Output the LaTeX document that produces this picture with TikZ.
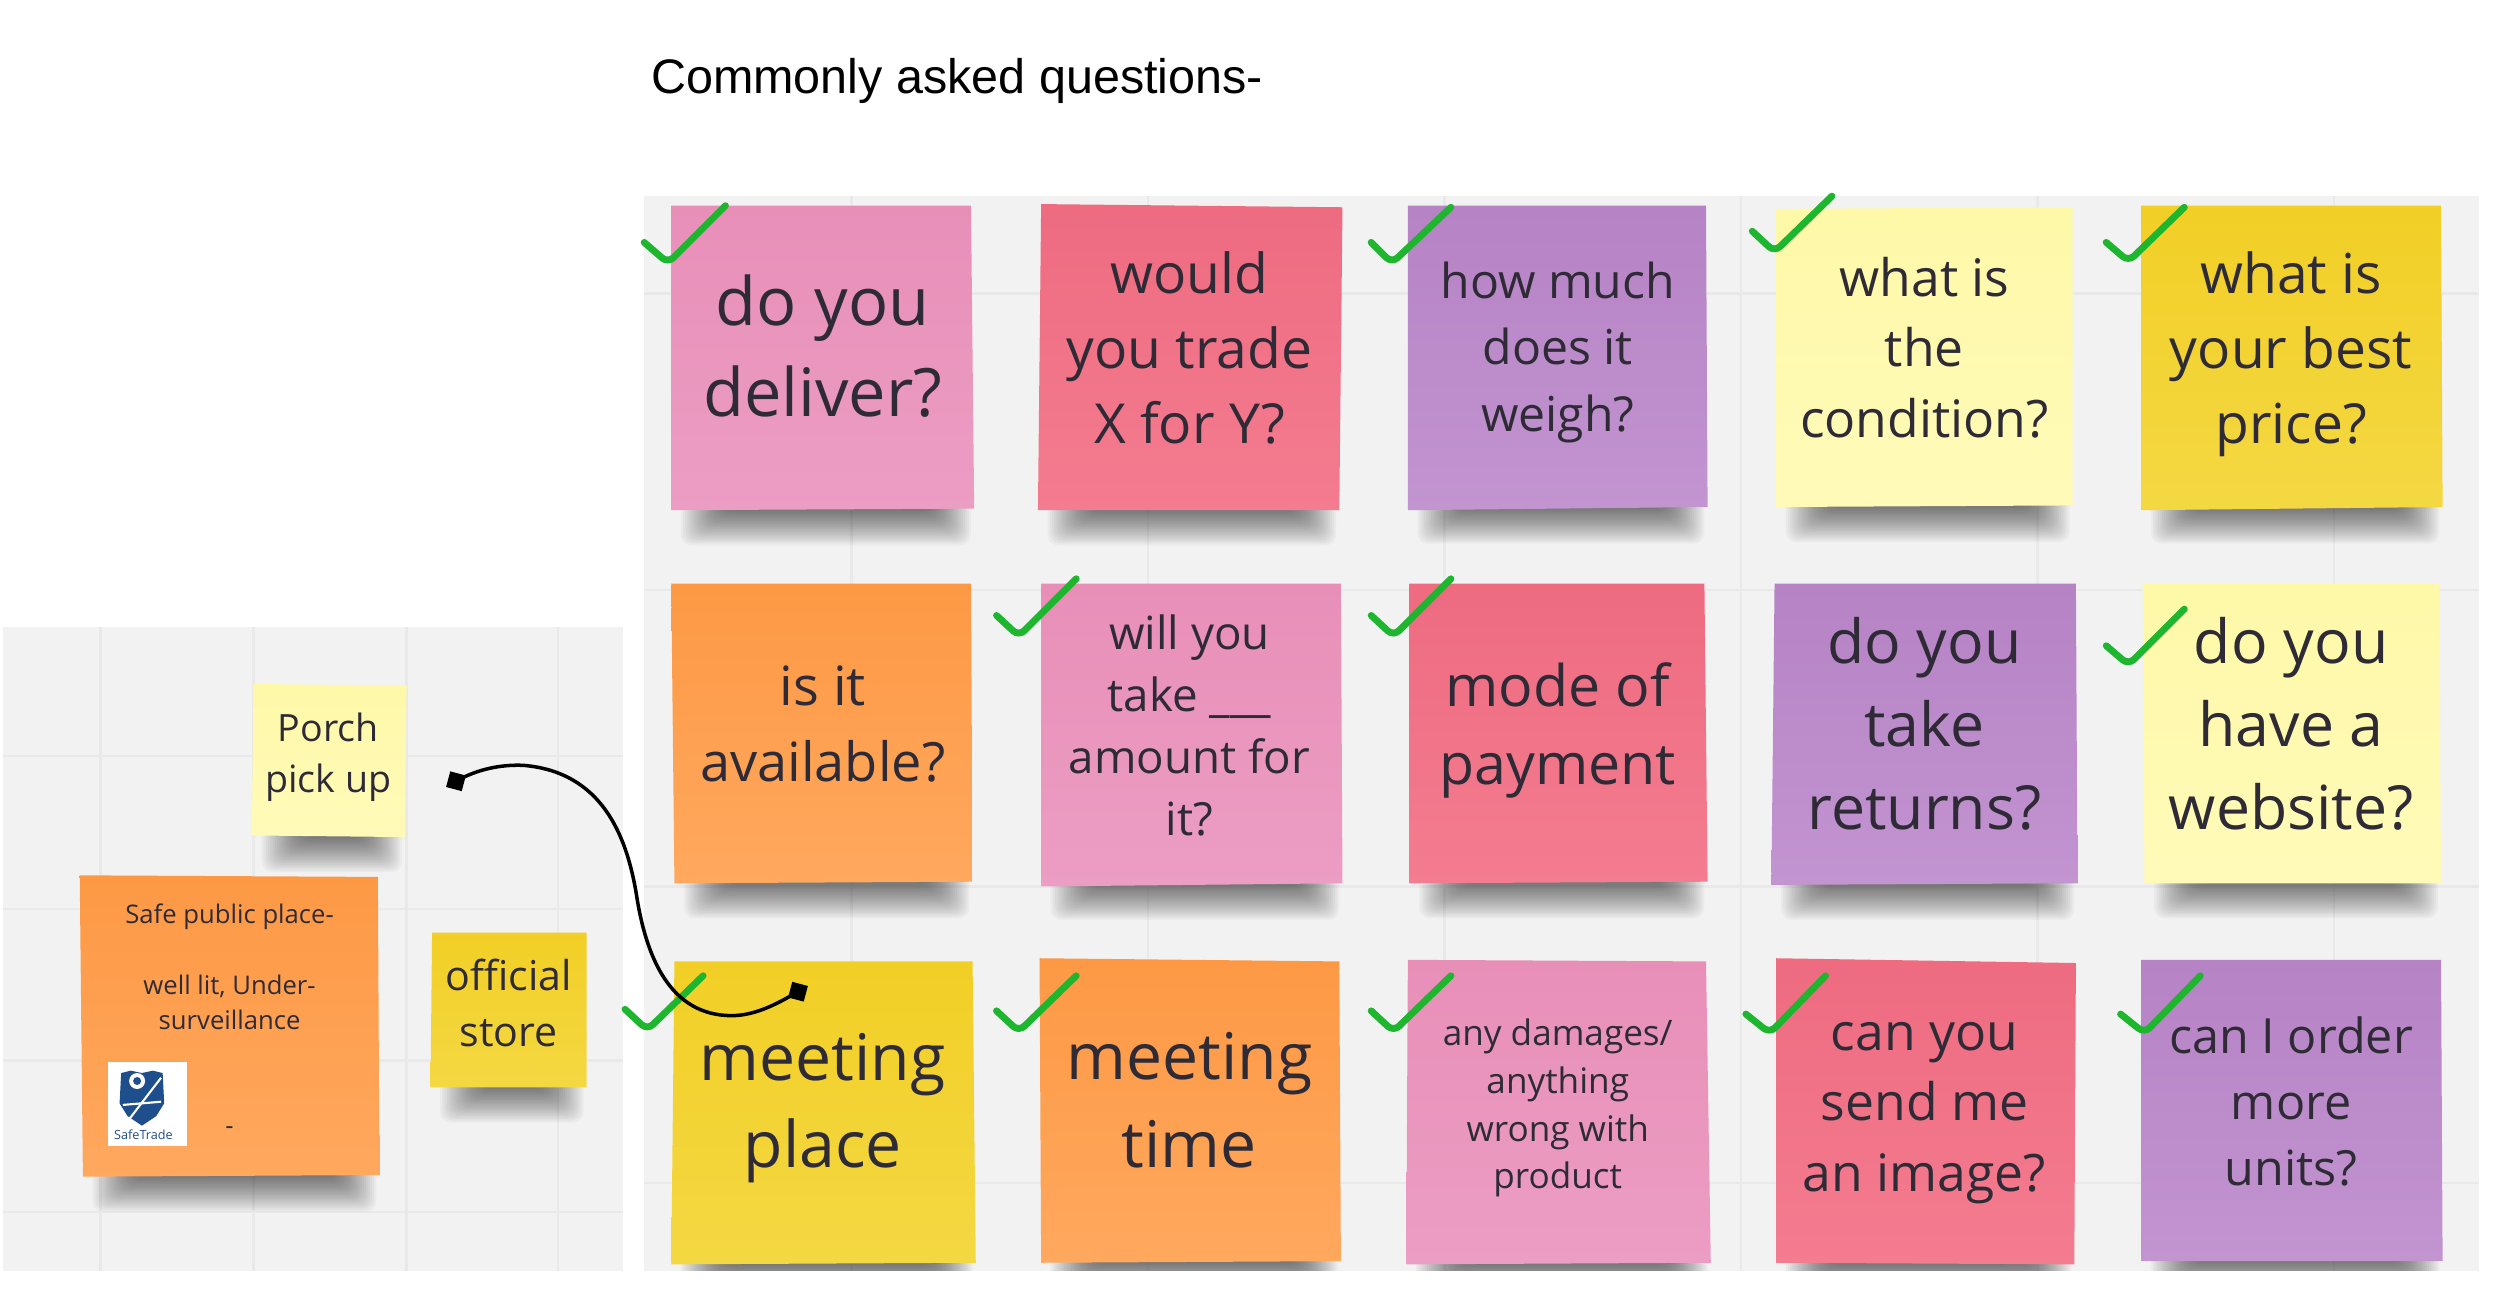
\documentclass[tikz,border=0pt]{standalone}
\usepackage{fontspec}
\setmainfont{Open Sans}
\newfontfamily\titlefont{Liberation Sans}
\definecolor{panel}{HTML}{F2F2F3}
\definecolor{gridc}{HTML}{E9E9EA}
\definecolor{ink}{HTML}{2F2B36}
\definecolor{chk}{HTML}{1EB52F}
\definecolor{pinkT}{HTML}{E88FB8}\definecolor{pinkB}{HTML}{EC9DC3}
\definecolor{redT}{HTML}{EE6B80}\definecolor{redB}{HTML}{F47C90}
\definecolor{purT}{HTML}{B683C5}\definecolor{purB}{HTML}{C294D0}
\definecolor{lemT}{HTML}{FEF9A8}\definecolor{lemB}{HTML}{FFFAB8}
\definecolor{golT}{HTML}{F2CF26}\definecolor{golB}{HTML}{F4D843}
\definecolor{oraT}{HTML}{FD9945}\definecolor{oraB}{HTML}{FFA85E}
\definecolor{logob}{HTML}{1F4E8C}
\tikzset{
  gridline/.style={gridc,line width=0.7pt},
  label/.style={text=ink,align=center,inner sep=0pt},
  tick/.style={chk,line width=1.95pt,line cap=round,rounded corners=2.2pt},
  endsq/.style={fill=black,rectangle,minimum size=4.6pt,inner sep=0pt,rotate=-15},
}
\newcommand{\shd}[3]{% x1 x2 ybottom
  \foreach \i in {0,...,19}{
    \fill[black,opacity=0.03,rounded corners=3pt]
      ({#1+6+\i*1.4},{#3-8}) rectangle ({#2-2-\i*1.3},{#3+22-\i*1.15});
  }}
\newcommand{\note}[5]{% colour, 4 corners
  \shade[top color=#1T,bottom color=#1B] #2 -- #3 -- #4 -- #5 -- cycle;}
\newcommand{\fs}[1]{\ifcase#1\or
  \fontsize{19}{25.85}\or \fontsize{18.3}{24.9}\or \fontsize{17.3}{23.6}\or
  \fontsize{16.3}{22.2}\or \fontsize{15.4}{21.8}\or \fontsize{15.7}{21.3}\or
  \fontsize{14.7}{20}\or \fontsize{13.7}{19}\or \fontsize{13.8}{18.8}\or
  \fontsize{13}{17.7}\or \fontsize{11.7}{15.9}\or \fontsize{10.7}{14.5}\or
  \fontsize{10}{13.6}\or \fontsize{7.3}{10}\fi\selectfont}
\begin{document}
\begin{tikzpicture}[x=0.015944cm,y=-0.015944cm]
\useasboundingbox (0,0) rectangle (1568,821.6);
% panels
\fill[panel] (404,123) rectangle (1555,797);
\fill[panel] (2,393) rectangle (391,797);
\foreach \x in {534,720,906,1092,1278,1464} \draw[gridline] (\x,123) -- (\x,797);
\foreach \y in {184,370,556,742} \draw[gridline] (404,\y) -- (1555,\y);
\foreach \x in {63,159,255,350} \draw[gridline] (\x,393) -- (\x,797);
\foreach \y in {474,570,665,760} \draw[gridline] (2,\y) -- (391,\y);
% shadows
\begin{scope}
\clip (0,0) rectangle (1568,797);
\foreach \a/\b/\c in {421/611/320,651/840/320,883/1071/319,1114/1300/318,1343/1532/319,
  423/610/554,653/842/555,884/1071/554,1111/1303/555,1345/1531/554,
  421/612/793,653/841/792,882/1073/793,1114/1301/793,1343/1532/791,
  158/254/525,52/238/738,270/368/682}{\shd{\a}{\b}{\c}}
\end{scope}
% notes
\note{pink}{(421,129)}{(609,129)}{(611,319)}{(421,320)}
\note{red}{(653,128)}{(842,130)}{(840,320)}{(651,320)}
\note{pur}{(883,129)}{(1070,129)}{(1071,318)}{(883,320)}
\note{lem}{(1114,131)}{(1300,130)}{(1300,317)}{(1114,318)}
\note{gol}{(1343,129)}{(1531,129)}{(1532,318)}{(1343,320)}
\note{ora}{(421,366)}{(609,366)}{(610,553)}{(423,554)}
\note{pink}{(653,366)}{(841,366)}{(842,554)}{(653,556)}
\note{red}{(884,366)}{(1069,366)}{(1071,553)}{(884,554)}
\note{pur}{(1113,366)}{(1302,366)}{(1303,554)}{(1111,555)}
\note{lem}{(1344,366)}{(1530,366)}{(1531,554)}{(1345,554)}
\note{gol}{(423,603)}{(610,603)}{(612,792)}{(421,793)}
\note{ora}{(652,601)}{(840,603)}{(841,791)}{(653,792)}
\note{pink}{(883,602)}{(1070,603)}{(1073,792)}{(882,793)}
\note{red}{(1114,601)}{(1302,604)}{(1301,793)}{(1114,792)}
\note{pur}{(1343,602)}{(1531,602)}{(1532,791)}{(1343,791)}
\note{lem}{(159,429)}{(255,430)}{(254,525)}{(158,524)}
\note{ora}{(50,549)}{(237,550)}{(238,737)}{(52,738)}
\note{gol}{(271,585)}{(368,585)}{(368,682)}{(270,682)}
% title
\node[anchor=west,inner sep=0pt,text=black,font=\titlefont\fontsize{13.8}{17}\selectfont] (title) at (408,51) {Commonly asked questions-};
% labels
\node[label,font=\fs{1}] (n1) at (516,217) {do you\\deliver?};
\node[label,font=\fs{6}] (n2) at (746,218) {would\\you trade\\X for Y?};
\node[label,font=\fs{8}] (n3) at (977,221) {how much\\does it\\weigh?};
\node[label,font=\fs{7}] (n4) at (1207,218) {what is\\the\\condition?};
\node[label,font=\fs{6}] (n5) at (1437,222) {what is\\your best\\price?};
\node[label,font=\fs{5}] (n6) at (516,454) {is it\\available?};
\node[label,font=\fs{10}] (n7) at (746,455) {will you\\take \_\_\_\\amount for\\it?};
\node[label,font=\fs{4}] (n8) at (977,458) {mode of\\payment};
\node[label,font=\fs{3}] (n9) at (1207,454) {do you\\take\\returns?};
\node[label,font=\fs{3}] (n10) at (1437,454) {do you\\have a\\website?};
\node[label,font=\fs{2}] (n11) at (516,695) {meeting\\place};
\node[label,font=\fs{2}] (n12) at (746,690) {meeting\\time};
\node[label,font=\fs{13}] (n13) at (977,695) {any damages/\\anything\\wrong with\\product};
\node[label,font=\fs{7}] (n14) at (1207,698) {can you\\send me\\an image?};
\node[label,font=\fs{9}] (n15) at (1437,691) {can I order\\more\\units?};
\node[label,font=\fs{12}] (n16) at (206,475) {Porch\\pick up};
\node[label,font=\fs{11}] (n17) at (319,629) {official\\store};
\node[label,font=\fs{14}] (n18) at (144,575) {Safe public place-};
\node[label,font=\fs{14}] (n19) at (144,628.5) {well lit, Under-\\surveillance};
\node[label,font=\fs{14}] (n20) at (144,709) {-};
% logo
\fill[white] (68,666) rectangle (117,719);
\fill[logob] (76,673) -- (82,671.5) -- (89,673) -- (96,671.5) -- (102,673) -- (103,692) -- (98,700) -- (89,706) -- (80,700) -- (75,692) -- cycle;
\draw[white,line width=0.6pt] (77,693) -- (101,691) (81,702) -- (101,676);
\fill[white] (86,678) circle (5) ;
\fill[logob] (86,678) circle (2.5);
\node[inner sep=0pt,text=logob,font=\fontsize{3.6}{4}\selectfont] (logo) at (90,712) {SafeTrade};
% checks
\foreach \a/\b/\c/\d/\e/\f in {
 404/152/419/165/455/129, 860/152/873/165/910/130, 1099/145/1113/158/1149/123,
 1321/152/1335/164/1370/130, 625/386/639/399/675/363, 860/386/874/399/910/363,
 1321/405/1335/417/1370/382, 392/633/406/646/441/612, 625/634/639/647/675/612,
 860/634/874/647/910/612, 1095/636/1110/648/1145/612, 1330/636/1345/648/1380/612}
 {\draw[tick] (\a,\b) -- (\c,\d) -- (\e,\f);}
% connector
\node[endsq] (endA) at (286,490) {};
\node[endsq] (endB) at (500.5,622) {};
\draw[black,line width=1pt] (endA.center) .. controls (300,482) and (315,479.5) .. (328,480)
  .. controls (378,484) and (393,525) .. (399,560)
  .. controls (405,600) and (420,637) .. (459,637)
  .. controls (475,637) and (490,628) .. (endB.center);
\end{tikzpicture}
\end{document}
